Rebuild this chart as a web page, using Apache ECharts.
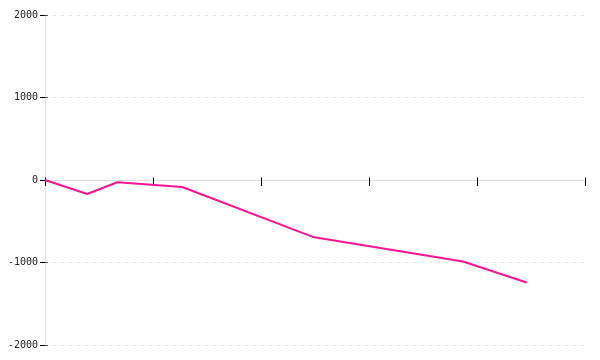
<!DOCTYPE html>
<html>
<head>
<meta charset="utf-8">
<script src="https://cdn.jsdelivr.net/npm/echarts@6/dist/echarts.min.js"></script>
<style>html,body{margin:0;padding:0;background:#fff}#c{width:600px;height:360px}</style>
</head>
<body>
<div id="c"></div>
<script>
const xValues = [0, 0.39, 0.67, 1.27, 2.48, 3.87, 4.46];
const yValues = [0, -170, -27, -85, -690, -988, -1242];
const yTicks = [-2000, -1000, 0, 1000, 2000];

const chart = echarts.init(document.getElementById('c'));
const pts = xValues.map((x, i) => [x, yValues[i]]);
const labelFont = {fontFamily: 'DejaVu Sans Mono, monospace', fontSize: 10, color: '#222'};
chart.setOption({
  animation: false,
  grid: {left: 45, right: 15, top: 15, bottom: 15, containLabel: false},
  xAxis: [
    {type: 'value', min: 0, max: 5, interval: 1, position: 'bottom',
     axisLine: {show: true, onZero: true, lineStyle: {color: '#dddddd', width: 1}},
     axisTick: {show: true, length: 6, lineStyle: {color: '#000', width: 1}},
     axisLabel: {show: false}, splitLine: {show: false}},
    {type: 'value', min: 0, max: 5, interval: 1, position: 'top', offset: -165.5,
     axisLine: {show: false, onZero: false},
     axisTick: {show: true, length: 3, lineStyle: {color: '#000', width: 1}},
     axisLabel: {show: false}, splitLine: {show: false}}
  ],
  yAxis: [
    {type: 'value', min: yTicks[0], max: yTicks[yTicks.length - 1], interval: 1000, position: 'left',
     axisLine: {show: true, onZero: false, lineStyle: {color: '#dddddd', width: 1}},
     axisTick: {show: true, length: 5, lineStyle: {color: '#000', width: 1}},
     axisLabel: Object.assign({margin: 7, formatter: v => String(v)}, labelFont),
     splitLine: {show: true, lineStyle: {color: '#e6e6e6', type: [3, 5], width: 1}}},
    {type: 'value', min: yTicks[0], max: yTicks[yTicks.length - 1], interval: 1000, position: 'left', offset: -3,
     axisLine: {show: false, onZero: false},
     axisTick: {show: true, length: 3, lineStyle: {color: '#555', width: 1}},
     axisLabel: {show: false}, splitLine: {show: false}}
  ],
  series: [{
    type: 'line', xAxisIndex: 0, yAxisIndex: 0, data: pts,
    symbol: 'none', smooth: false,
    lineStyle: {color: '#ff1493', width: 2}, itemStyle: {color: '#ff1493'}
  }]
});
</script>
</body>
</html>
